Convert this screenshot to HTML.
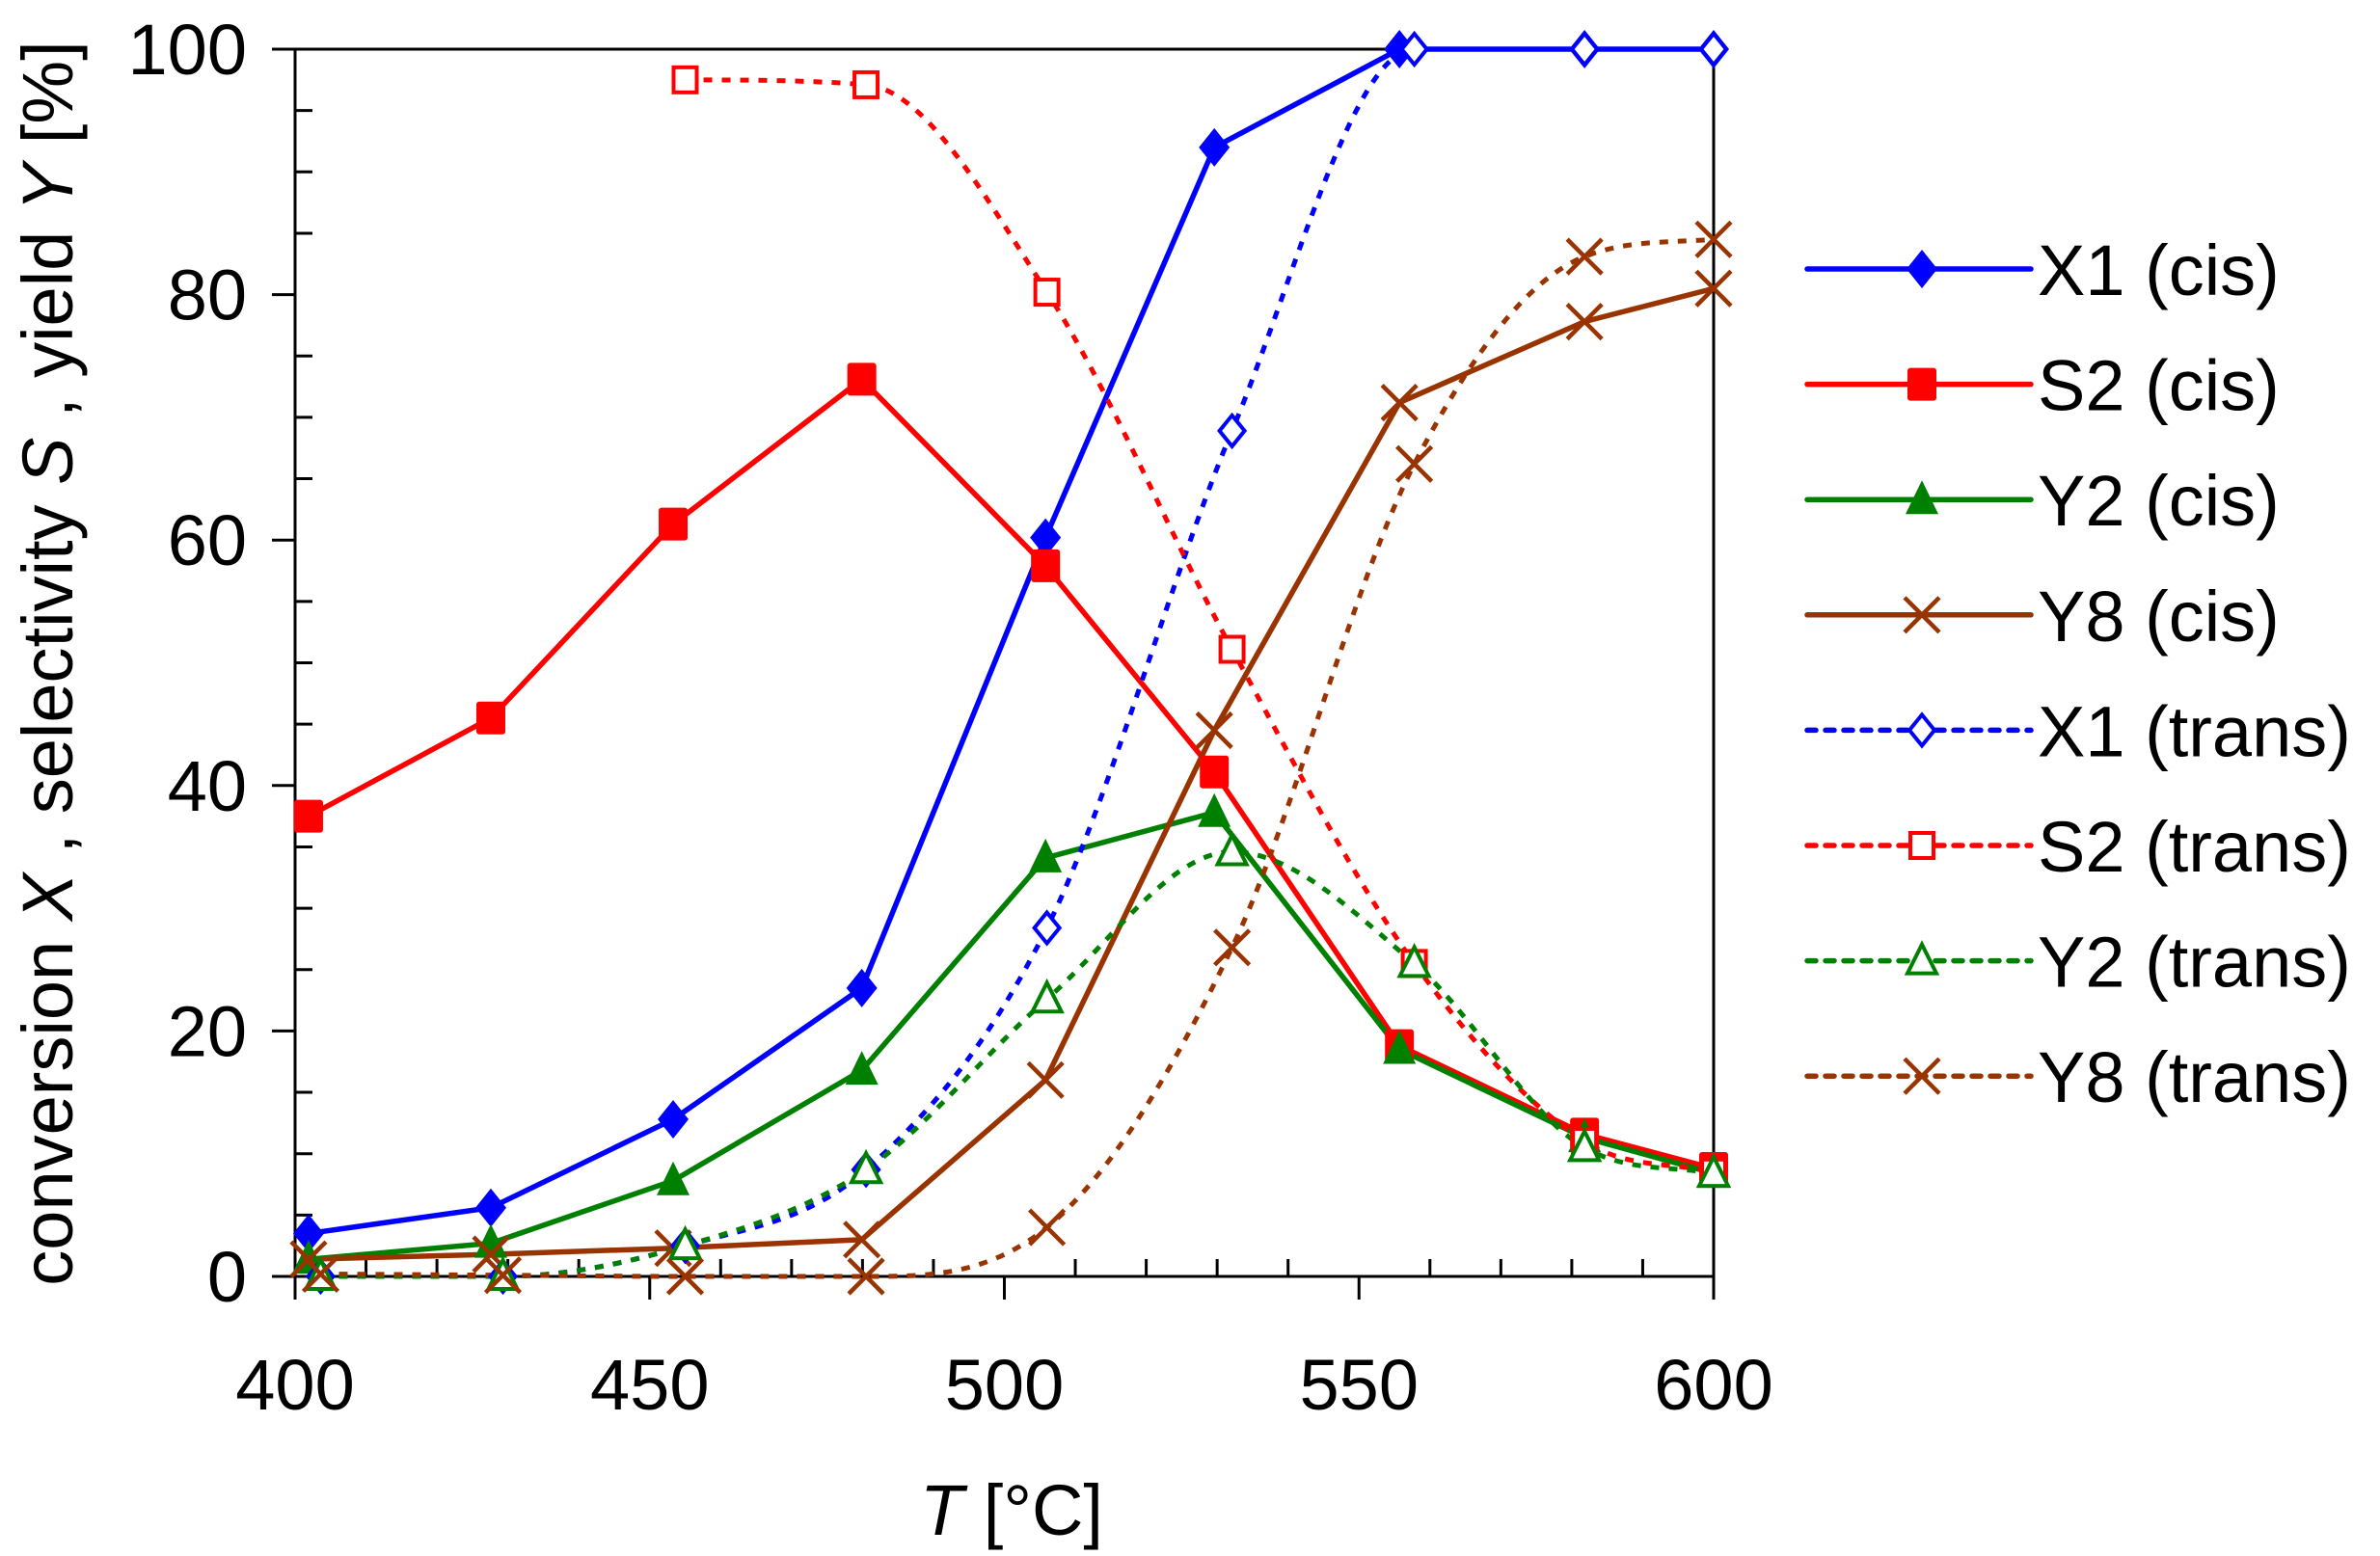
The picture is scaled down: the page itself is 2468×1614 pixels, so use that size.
<!DOCTYPE html>
<html><head><meta charset="utf-8"><style>
html,body{margin:0;padding:0;background:#fff;}
svg{display:block;font-family:"Liberation Sans",Arial,sans-serif;}
</style></head><body>
<svg id="s" width="2468" height="1614" viewBox="0 0 2468 1614" xmlns="http://www.w3.org/2000/svg">
<rect width="2468" height="1614" fill="#fff"/>
<g id="axes" stroke="#000" stroke-width="3" fill="none"></g>
<g id="series"></g>
<g id="labels" font-size="74" fill="#000"></g>
<text transform="translate(75,688) rotate(-90)" text-anchor="middle" font-size="74" fill="#000">conversion <tspan font-style="italic">X</tspan> , selectivity <tspan font-style="italic">S</tspan> , yield <tspan font-style="italic">Y</tspan>  [%]</text>
<text x="1049" y="1592" text-anchor="middle" font-size="74" fill="#000"><tspan font-style="italic">T</tspan>  [°C]</text>
<g id="legend"></g>
</svg>
<script>
var NS="http://www.w3.org/2000/svg";
var X0=306,X1=1777,Y0=1324,Y1=51;
function px(t){return X0+(t-400)*(X1-X0)/200;}
function py(v){return Y0-v*(Y0-Y1)/100;}
function el(p,tag,a){var e=document.createElementNS(NS,tag);for(var k in a)e.setAttribute(k,a[k]);p.appendChild(e);return e;}
var ax=document.getElementById('axes'),lb=document.getElementById('labels');
el(ax,'rect',{x:X0,y:Y1,width:X1-X0,height:Y0-Y1});
for(var v=0;v<=100;v+=5){var y=py(v);
 if(v%20==0){el(ax,'line',{x1:282,y1:y,x2:X0,y2:y});var t=el(lb,'text',{x:256,y:y+26,'text-anchor':'end'});t.textContent=v;}
 else el(ax,'line',{x1:X0,y1:y,x2:X0+18,y2:y});}
for(var T=400;T<=600;T+=10){var x=px(T);
 if(T%50==0){el(ax,'line',{x1:x,y1:Y0,x2:x,y2:1348});var t=el(lb,'text',{x:x,y:1462,'text-anchor':'middle'});t.textContent=T;}
 else el(ax,'line',{x1:x,y1:Y0,x2:x,y2:Y0-18});}
var Tc=[401.9,427.6,453.3,479.9,505.8,529.6,555.7,581.8,600];
var Tt=[403.6,429.3,455,480.5,506,532.1,557.8,581.8,600];
var S=[
 {n:'X1 (cis)',c:'#0000ff',m:'dia',f:1,d:0,T:Tc,v:[3.5,5.6,12.8,23.5,60.2,92,100,100,100]},
 {n:'S2 (cis)',c:'#ff0000',m:'sq',f:1,d:0,T:Tc,v:[37.5,45.5,61.3,73.1,57.9,41.1,18.8,11.6,8.8]},
 {n:'Y2 (cis)',c:'#008000',m:'tri',f:1,d:0,T:Tc,v:[1.4,2.7,7.8,16.8,34.1,37.8,18.5,11.3,8.4]},
 {n:'Y8 (cis)',c:'#993300',m:'x',f:1,d:0,T:Tc,v:[1.4,1.8,2.3,3.0,16.0,44.5,71.2,77.8,80.5]},
 {n:'X1 (trans)',c:'#0000ff',m:'dia',f:0,d:1,T:Tt,v:[0,0,2.5,8.7,28.4,68.9,100,100,100]},
 {n:'S2 (trans)',c:'#ff0000',m:'sq',f:0,d:1,T:Tt.slice(2),v:[97.5,97.1,80.2,51.1,25.5,11.0,8.5]},
 {n:'Y2 (trans)',c:'#008000',m:'tri',f:0,d:1,T:Tt,v:[0,0,2.5,8.7,22.6,34.6,25.5,10.5,8.4]},
 {n:'Y8 (trans)',c:'#993300',m:'x',f:0,d:1,T:Tt,v:[0.2,0.1,0,0,4,26.8,66.2,83.1,84.5]}];
function marker(g,m,x,y,c,f){
 if(m=='dia'){if(f)el(g,'polygon',{points:[x,y-20,x+16,y,x,y+20,x-16,y].join(' '),fill:c});else el(g,'polygon',{points:[x,y-16,x+13,y,x,y+16,x-13,y].join(' '),fill:'#fff',stroke:c,'stroke-width':4});}
 else if(m=='sq'){if(f)el(g,'rect',{x:x-15,y:y-17,width:30,height:34,rx:3,fill:c});else el(g,'rect',{x:x-12,y:y-13,width:24,height:26,fill:'#fff',stroke:c,'stroke-width':4});}
 else if(m=='tri'){if(f)el(g,'polygon',{points:[x,y-20,x+17,y+15,x-17,y+15].join(' '),fill:c});else el(g,'polygon',{points:[x,y-17,x+15,y+13,x-15,y+13].join(' '),fill:'#fff',stroke:c,'stroke-width':4});}
 else {el(g,'path',{d:'M'+(x-18)+' '+(y-18)+'L'+(x+18)+' '+(y+18)+'M'+(x+18)+' '+(y-18)+'L'+(x-18)+' '+(y+18),stroke:c,'stroke-width':4.5,fill:'none'});}
}
function mono(P){var n=P.length,d=[],m=[];
 for(var i=0;i<n-1;i++)d.push((P[i+1][1]-P[i][1])/(P[i+1][0]-P[i][0]));
 m[0]=d[0];m[n-1]=d[n-2];
 for(var i=1;i<n-1;i++){m[i]=(d[i-1]*d[i]<=0)?0:(d[i-1]+d[i])/2;}
 for(var i=0;i<n-1;i++){if(d[i]==0){m[i]=0;m[i+1]=0;continue;}var a=m[i]/d[i],b=m[i+1]/d[i],s=a*a+b*b;if(s>9){var t=3/Math.sqrt(s);m[i]=t*a*d[i];m[i+1]=t*b*d[i];}}
 var s='M'+P[0][0]+' '+P[0][1];
 for(var i=0;i<n-1;i++){var h=(P[i+1][0]-P[i][0])/3;
  s+='C'+(P[i][0]+h)+' '+(P[i][1]+m[i]*h)+' '+(P[i+1][0]-h)+' '+(P[i+1][1]-m[i+1]*h)+' '+P[i+1][0]+' '+P[i+1][1];}
 return s;}
var sg=document.getElementById('series');
S.forEach(function(s){var P=s.T.map(function(t,i){return [px(t),py(s.v[i])];});
 if(s.d)el(sg,'path',{d:mono(P),stroke:s.c,'stroke-width':5,fill:'none','stroke-dasharray':'9 10'});
 else el(sg,'path',{d:'M'+P.map(function(p){return p.join(' ')}).join('L'),stroke:s.c,'stroke-width':5.5,fill:'none','stroke-linejoin':'round'});});
S.forEach(function(s){s.T.forEach(function(t,i){marker(sg,s.m,px(t),py(s.v[i]),s.c,s.f);});});
var lg=document.getElementById('legend');
S.forEach(function(s,i){var y=279+i*119.6;
 el(lg,'line',{x1:1874,y1:y,x2:2106,y2:y,stroke:s.c,'stroke-width':5.5,'stroke-linecap':'round','stroke-dasharray':s.d?'9 10':'none'});
 marker(lg,s.m,1993,y,s.c,s.f);
 var t=el(lg,'text',{x:2113,y:y+27,'font-size':74,fill:'#000'});t.textContent=s.n;});
</script>
</body></html>
